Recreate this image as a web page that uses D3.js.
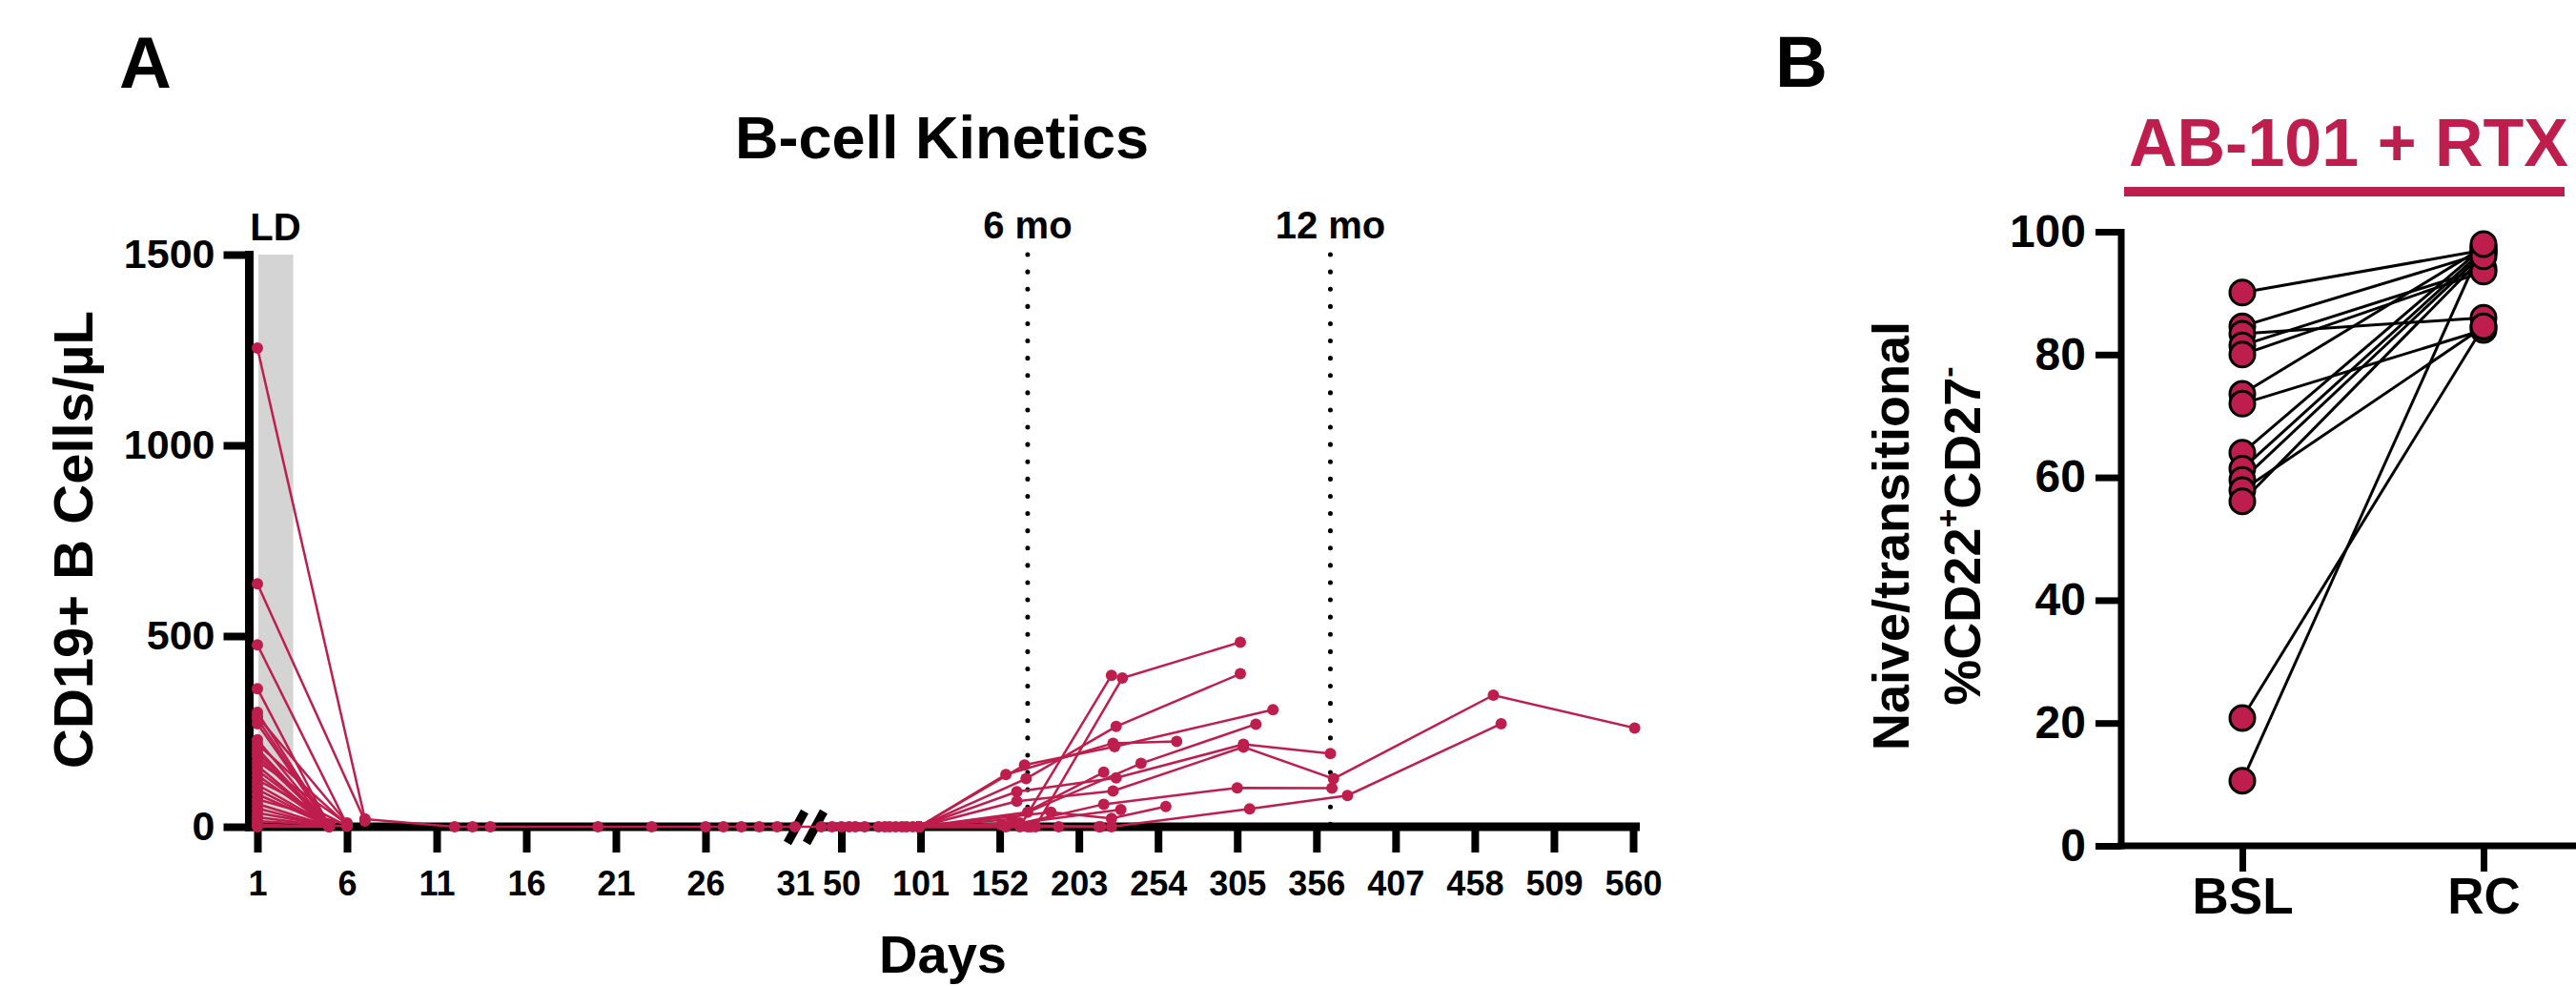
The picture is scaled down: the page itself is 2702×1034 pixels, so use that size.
<!DOCTYPE html>
<html>
<head>
<meta charset="utf-8">
<script src="https://cdn.jsdelivr.net/npm/d3@7"></script>
<style>
  body { margin: 0; background: #fff; }
  svg { display: block; font-family: "Liberation Sans", Arial, sans-serif; font-weight: bold; }
</style>
</head>
<body>
<svg id="chart" width="2702" height="1034"></svg>
<script>
// ---- panel A: B-cell kinetics ----
// day-1 counts and first follow-up (day, count) for each patient
const day1Counts   = [1255, 637, 477, 362, 300, 290, 283, 270, 228, 217, 205, 195, 185, 172, 160, 148, 135, 122, 110, 98, 85, 72, 60, 48, 36, 25, 15, 6, 0];
const followDays   = [7, 7, 6, 5, 5, 6, 5, 5, 5, 6, 5, 5, 5, 6, 5, 5, 5, 6, 5, 5, 5, 6, 5, 5, 5, 5, 6, 5, 5];
const followCounts = [20, 15, 5, 2, 5, 10, 4, 2, 3, 6, 2, 4, 3, 8, 2, 5, 3, 2, 4, 2, 3, 6, 2, 1, 3, 2, 1, 0, 0];

// patients followed at ~0 through the aplasia period
const zeroChain = [[7, 20], [12, 0], [13, 0], [14, 0], [20, 0], [23, 0], [26, 0], [27, 0], [28, 0], [29, 0], [30, 0], [31, 0],
  [37, 0], [44, 0], [50, 0], [55, 0], [59, 0], [65, 0], [74, 0], [78, 0], [81, 0], [85, 0], [89, 0], [92, 0], [96, 0], [100, 0]];

// recovery after day 100
const recovery = [
  [[100, 0], [156, 137], [225, 219], [266, 224]],
  [[100, 0], [168, 162], [226, 210], [328, 307]],
  [[100, 0], [165, 0], [224, 397]],
  [[100, 0], [175, 0], [231, 390], [307, 484]],
  [[100, 0], [169, 126], [227, 263], [307, 401]],
  [[100, 0], [170, 38], [243, 166], [317, 269]],
  [[100, 0], [163, 92], [227, 128], [309, 216], [365, 192]],
  [[100, 0], [163, 67], [225, 94], [309, 209], [367, 126], [470, 345], [561, 259]],
  [[100, 0], [156, 0], [219, 59], [305, 102], [366, 101]],
  [[100, 0], [170, 0], [224, 0], [313, 47], [376, 82], [475, 270]],
  [[100, 0], [160, 20], [219, 143]],
  [[100, 0], [165, 10], [230, 45]],
  [[100, 0], [185, 38], [224, 22], [259, 53]],
  [[100, 0], [153, 5], [217, 0]],
  [[100, 0], [172, 0], [190, 0], [216, 0]]
];

const leftTicks = [1, 6, 11, 16, 21, 26, 31];
const rightTicks = [50, 101, 152, 203, 254, 305, 356, 407, 458, 509, 560];
const yTicksA = [0, 500, 1000, 1500];
const ldDays = [1, 3];
const markerDays = [170, 365];
const markerLabels = ["6 mo", "12 mo"];

// ---- panel B: naive/transitional B cells ----
const groups = ["BSL", "RC"];
const bslValues = [90.1, 84.6, 83.4, 81.5, 80.0, 73.6, 72.0, 64.0, 61.4, 59.6, 57.9, 56.1, 20.8, 10.6];
const rcValues  = [97.0, 96.5, 86.0, 94.0, 93.5, 97.5, 84.0, 97.5, 97.0, 96.5, 84.5, 96.0, 84.6, 98.0];
const yTicksB = [0, 20, 40, 60, 80, 100];

const red = "#be1e4d";
const svg = d3.select("#chart");

// scales
const xLeft = d3.scaleLinear().domain([1, 31]).range([270, 834]);
const xRight = d3.scaleLinear().domain([50, 560]).range([882.5, 1713]);
const xDay = d => d <= 31 ? xLeft(d) : xRight(d);
const yA = d3.scaleLinear().domain([0, 1500]).range([867, 267]);

// LD shading
svg.append("rect")
  .attr("x", xLeft(ldDays[0]) + 1)
  .attr("y", yA(1500))
  .attr("width", xLeft(ldDays[1]) - xLeft(ldDays[0]) - 1)
  .attr("height", yA(0) - yA(1500))
  .attr("fill", "#d4d4d4");

svg.append("text").attr("x", 289).attr("y", 252)
  .attr("text-anchor", "middle").attr("font-size", 40).text("LD");

// month markers
markerDays.forEach((d, i) => {
  svg.append("line")
    .attr("x1", xRight(d)).attr("x2", xRight(d))
    .attr("y1", yA(1500)).attr("y2", yA(0))
    .attr("stroke", "#000").attr("stroke-width", 5)
    .attr("stroke-linecap", "round")
    .attr("stroke-dasharray", "0.1 18");
  svg.append("text").attr("x", xRight(d)).attr("y", 250)
    .attr("text-anchor", "middle").attr("font-size", 40).text(markerLabels[i]);
});

// axes
function styleAxis(g, size, tickWidth) {
  g.select(".domain").remove();
  g.attr("font-family", null).attr("font-size", size);
  g.selectAll(".tick line").attr("stroke-width", tickWidth);
  g.selectAll(".tick text").attr("font-weight", "bold");
}

const gyA = svg.append("g").attr("transform", "translate(261.5,0)")
  .call(d3.axisLeft(yA).tickValues(yTicksA).tickFormat(d3.format("d"))
    .tickSize(27).tickSizeOuter(0).tickPadding(9));
styleAxis(gyA, 43, 8);

const gxL = svg.append("g").attr("transform", "translate(0,867)")
  .call(d3.axisBottom(xLeft).tickValues(leftTicks).tickSize(27).tickSizeOuter(0).tickPadding(19));
styleAxis(gxL, 36, 8);
gxL.selectAll(".tick").filter(d => d === 31).select("line").remove();

const gxR = svg.append("g").attr("transform", "translate(0,867)")
  .call(d3.axisBottom(xRight).tickValues(rightTicks).tickSize(27).tickSizeOuter(0).tickPadding(19));
styleAxis(gxR, 36, 8);

svg.append("line").attr("x1", 261.5).attr("x2", 261.5).attr("y1", 263).attr("y2", 871.5)
  .attr("stroke", "#000").attr("stroke-width", 9);
svg.append("line").attr("x1", 257).attr("x2", 835).attr("y1", 867).attr("y2", 867)
  .attr("stroke", "#000").attr("stroke-width", 9);
svg.append("line").attr("x1", 855).attr("x2", 1720).attr("y1", 867).attr("y2", 867)
  .attr("stroke", "#000").attr("stroke-width", 9);

// axis break marks
[826, 846].forEach(x0 => {
  svg.append("line").attr("x1", x0).attr("y1", 884).attr("x2", x0 + 18).attr("y2", 851)
    .attr("stroke", "#000").attr("stroke-width", 9);
});

// data A
const lineA = d3.line().x(d => xDay(d[0])).y(d => yA(d[1]));
const seriesA = day1Counts.map((v, i) => [[1, v], [followDays[i], followCounts[i]]])
  .concat([zeroChain], recovery);

svg.append("g").selectAll("path").data(seriesA).join("path")
  .attr("d", lineA)
  .attr("fill", "none").attr("stroke", red).attr("stroke-width", 2.5);

svg.append("g").selectAll("circle").data(seriesA.flat()).join("circle")
  .attr("cx", d => xDay(d[0])).attr("cy", d => yA(d[1])).attr("r", 6)
  .attr("fill", red);

// labels A
svg.append("text").attr("x", 125).attr("y", 92).attr("font-size", 76).text("A");
svg.append("text").attr("x", 988).attr("y", 166).attr("text-anchor", "middle")
  .attr("font-size", 63).text("B-cell Kinetics");
svg.append("text").attr("x", 989).attr("y", 1020).attr("text-anchor", "middle")
  .attr("font-size", 56).text("Days");
svg.append("text").attr("transform", "translate(97,566) rotate(-90)")
  .attr("text-anchor", "middle").attr("font-size", 58).text("CD19+ B Cells/µL");

// ---- panel B ----
const xB = d3.scalePoint().domain(groups).range([2352, 2605]);
const yB = d3.scaleLinear().domain([0, 100]).range([887, 243]);

const gyB = svg.append("g").attr("transform", "translate(2225,0)")
  .call(d3.axisLeft(yB).tickValues(yTicksB).tickSize(27).tickSizeOuter(0).tickPadding(10));
styleAxis(gyB, 48, 7);

const gxB = svg.append("g").attr("transform", "translate(0,887)")
  .call(d3.axisBottom(xB).tickSize(27).tickSizeOuter(0).tickPadding(6));
styleAxis(gxB, 53, 7);

svg.append("line").attr("x1", 2225).attr("x2", 2225).attr("y1", 240).attr("y2", 890.5)
  .attr("stroke", "#000").attr("stroke-width", 7);
svg.append("line").attr("x1", 2221.5).attr("x2", 2702).attr("y1", 887).attr("y2", 887)
  .attr("stroke", "#000").attr("stroke-width", 7);

const pairs = bslValues.map((v, i) => [v, rcValues[i]]);
svg.append("g").selectAll("line").data(pairs).join("line")
  .attr("x1", xB(groups[0])).attr("y1", d => yB(d[0]))
  .attr("x2", xB(groups[1])).attr("y2", d => yB(d[1]))
  .attr("stroke", "#000").attr("stroke-width", 3);

const pointsB = pairs.flatMap(d => [[groups[0], d[0]], [groups[1], d[1]]]);
svg.append("g").selectAll("circle").data(pointsB).join("circle")
  .attr("cx", d => xB(d[0])).attr("cy", d => yB(d[1])).attr("r", 13)
  .attr("fill", red).attr("stroke", "#000").attr("stroke-width", 3);

svg.append("text").attr("x", 1862).attr("y", 91).attr("font-size", 76).text("B");
svg.append("text").attr("x", 2233).attr("y", 174).attr("font-size", 70)
  .attr("fill", red).text("AB-101 + RTX");
svg.append("rect").attr("x", 2228).attr("y", 196).attr("width", 462).attr("height", 10)
  .attr("fill", red);

svg.append("text").attr("transform", "translate(2002,562) rotate(-90)")
  .attr("text-anchor", "middle").attr("font-size", 54).text("Naive/transitional");
const lab2 = svg.append("text").attr("transform", "translate(2077,562) rotate(-90)")
  .attr("text-anchor", "middle").attr("font-size", 54);
lab2.append("tspan").text("%CD22");
lab2.append("tspan").attr("font-size", 34).attr("dy", -22).text("+");
lab2.append("tspan").attr("dy", 22).text("CD27");
lab2.append("tspan").attr("font-size", 34).attr("dy", -22).text("-");
</script>
</body>
</html>
